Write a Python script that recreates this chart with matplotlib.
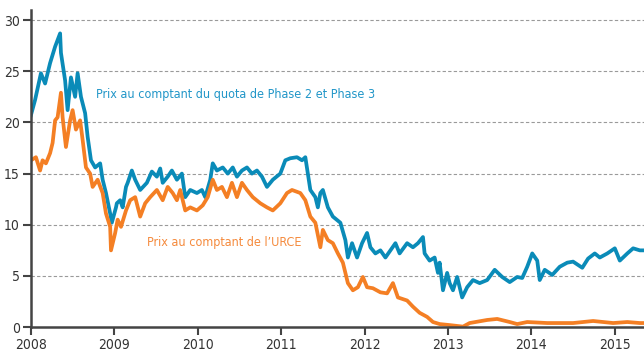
import matplotlib.pyplot as plt

# Spot prices (EUR/t), dates as decimal years
eua_dates = [
    2008.00, 2008.05, 2008.12, 2008.17, 2008.23, 2008.29, 2008.35, 2008.36, 2008.41, 2008.44,
    2008.48, 2008.53, 2008.56, 2008.60, 2008.65, 2008.68, 2008.72, 2008.77, 2008.83, 2008.86,
    2008.90, 2008.95, 2008.97, 2009.02, 2009.03, 2009.07, 2009.10, 2009.14, 2009.16, 2009.21,
    2009.25, 2009.31, 2009.39, 2009.45, 2009.51, 2009.55, 2009.58, 2009.64, 2009.69, 2009.75,
    2009.81, 2009.85, 2009.91, 2009.99, 2010.05, 2010.09, 2010.15, 2010.18, 2010.23, 2010.30,
    2010.36, 2010.42, 2010.47, 2010.53, 2010.59, 2010.65, 2010.71, 2010.77, 2010.83, 2010.90,
    2010.99, 2011.05, 2011.11, 2011.19, 2011.25, 2011.29, 2011.32, 2011.35, 2011.41, 2011.44,
    2011.47, 2011.50, 2011.56, 2011.62, 2011.71, 2011.77, 2011.80, 2011.85, 2011.91, 2011.97,
    2012.03, 2012.07, 2012.13, 2012.19, 2012.25, 2012.31, 2012.37, 2012.42, 2012.51, 2012.58,
    2012.64, 2012.70, 2012.72, 2012.78, 2012.84, 2012.88, 2012.90, 2012.94, 2012.99, 2013.02,
    2013.06, 2013.11, 2013.17, 2013.23, 2013.30, 2013.38, 2013.47, 2013.56, 2013.65, 2013.74,
    2013.83, 2013.89, 2013.95, 2014.01, 2014.07, 2014.10, 2014.16, 2014.25, 2014.34, 2014.43,
    2014.50, 2014.61, 2014.68, 2014.76, 2014.82, 2014.91, 2015.00, 2015.06, 2015.15, 2015.22,
    2015.30, 2015.35,
]
eua_prices = [
    20.7, 22.2, 24.8, 23.8, 25.8, 27.4, 28.7, 26.8, 24.1, 21.2,
    24.4, 22.5, 24.8, 22.5, 20.9, 18.6, 16.3, 15.6, 16.0, 14.4,
    13.1, 11.1, 10.2, 11.7, 12.1, 12.4, 11.7, 13.7, 14.1, 15.3,
    14.4, 13.4, 14.1, 15.2, 14.7, 15.5, 14.1, 14.7, 15.3, 14.4,
    15.0, 12.7, 13.4, 13.1, 13.4, 12.7, 14.4, 16.0, 15.3, 15.6,
    15.0, 15.6, 14.7, 15.3, 15.6, 15.0, 15.3, 14.7, 13.7, 14.4,
    15.0, 16.3, 16.5, 16.6, 16.3, 16.6, 15.0, 13.4, 12.7, 11.7,
    13.1, 13.4, 11.7, 10.8, 10.2, 8.5, 6.8, 8.2, 6.8, 8.2,
    9.2, 7.8, 7.2, 7.5, 6.8, 7.5, 8.2, 7.2, 8.2, 7.8,
    8.2, 8.8, 7.2, 6.5, 6.8, 5.3, 6.3, 3.6, 5.3, 4.3,
    3.6, 4.9, 2.9, 3.9, 4.6, 4.3, 4.6, 5.6, 4.9, 4.4,
    4.9, 4.8, 5.9, 7.2, 6.5, 4.6, 5.6, 5.1, 5.9, 6.3,
    6.4, 5.8, 6.7, 7.2, 6.8, 7.2, 7.7, 6.5, 7.2, 7.7,
    7.5, 7.5,
]

cer_dates = [
    2008.00, 2008.06, 2008.11, 2008.14, 2008.18, 2008.23, 2008.26, 2008.29, 2008.32, 2008.36,
    2008.38, 2008.42, 2008.47, 2008.50, 2008.54, 2008.59, 2008.62, 2008.66, 2008.71, 2008.74,
    2008.80, 2008.86, 2008.90, 2008.95, 2008.96, 2009.01, 2009.04, 2009.08, 2009.14, 2009.19,
    2009.25, 2009.31, 2009.37, 2009.43, 2009.51, 2009.58, 2009.64, 2009.70, 2009.75, 2009.79,
    2009.85, 2009.91, 2009.99, 2010.06, 2010.12, 2010.18, 2010.23, 2010.29, 2010.35, 2010.41,
    2010.47, 2010.53, 2010.59, 2010.66, 2010.75, 2010.83, 2010.90, 2010.99, 2011.07, 2011.13,
    2011.23, 2011.29, 2011.35, 2011.41, 2011.47, 2011.50, 2011.56, 2011.62, 2011.68, 2011.74,
    2011.80, 2011.86, 2011.92, 2011.98, 2012.03, 2012.10, 2012.19, 2012.27, 2012.34, 2012.40,
    2012.51, 2012.58, 2012.66, 2012.75, 2012.82, 2012.90, 2013.02, 2013.18, 2013.26, 2013.47,
    2013.59, 2013.74, 2013.83, 2013.95, 2014.19, 2014.50, 2014.74, 2014.98, 2015.15, 2015.30,
    2015.35,
]
cer_prices = [
    16.3, 16.6, 15.3, 16.3, 16.0, 17.0, 18.0, 20.2, 20.5, 22.9,
    20.5, 17.6, 20.2, 21.2, 19.3, 20.2, 18.3, 15.6, 15.0, 13.7,
    14.4, 13.1, 11.1, 9.8, 7.5, 9.2, 10.5, 9.8, 11.4, 12.4,
    12.7, 10.8, 12.1, 12.7, 13.4, 12.4, 13.7, 13.1, 12.4, 13.4,
    11.4, 11.7, 11.4, 11.9, 12.7, 14.4, 13.4, 13.7, 12.7, 14.1,
    12.7, 14.1, 13.4, 12.7, 12.1, 11.7, 11.4, 12.1, 13.1, 13.4,
    13.1, 12.4, 10.8, 10.2, 7.8, 9.5, 8.5, 8.2, 7.2, 6.3,
    4.3, 3.6, 3.9, 4.9, 3.9, 3.8, 3.4, 3.3, 4.3, 2.9,
    2.6, 2.0, 1.4, 1.0, 0.5, 0.3, 0.2, 0.05, 0.4, 0.7,
    0.8, 0.5, 0.3, 0.5, 0.4, 0.4, 0.6, 0.4, 0.5, 0.4,
    0.4,
]

year_ticks = [2008, 2009, 2010, 2011, 2012, 2013, 2014, 2015]
price_ticks = [0, 5, 10, 15, 20, 25, 30]

blue = '#0a8bb8'
orange = '#f47f24'
axis_grey = '#444444'

plt.rcParams['font.family'] = ['DejaVu Sans']
plt.rcParams['font.stretch'] = 'condensed'

fig = plt.figure(figsize=(6.44, 3.51), dpi=100)
ax = fig.add_axes([0.048, 0.068, 0.952, 0.904])

ax.plot(eua_dates, eua_prices, color=blue, linewidth=2.7, solid_joinstyle='round')
ax.plot(cer_dates, cer_prices, color=orange, linewidth=2.7, solid_joinstyle='round')

ax.text(2008.78, 22.7, "Prix au comptant du quota de Phase 2 et Phase 3",
        color='#2196c8', fontsize=9, stretch='condensed', va='center')
ax.text(2009.39, 8.3, "Prix au comptant de l\u2019URCE",
        color='#f58a3c', fontsize=9, stretch='condensed', va='center')

ax.set_xlim(2008, 2015.35)
ax.set_ylim(0, 31)
ax.set_xticks(year_ticks)
ax.set_xticklabels([str(y) for y in year_ticks])
ax.set_yticks(price_ticks)

# dashed horizontal guides, skipping the zero line
for v in price_ticks[1:]:
    ax.axhline(v, color='#9a9a9a', linewidth=0.8, linestyle=(0, (3, 2)), zorder=0)

for side in ['top', 'right']:
    ax.spines[side].set_visible(False)
for side in ['left', 'bottom']:
    ax.spines[side].set_color(axis_grey)
    ax.spines[side].set_linewidth(1.8)

ax.tick_params(axis='both', colors=axis_grey, width=1.5, length=6,
               labelsize=10, labelcolor='#333333', pad=2)

fig.savefig('out.png', dpi=100)
